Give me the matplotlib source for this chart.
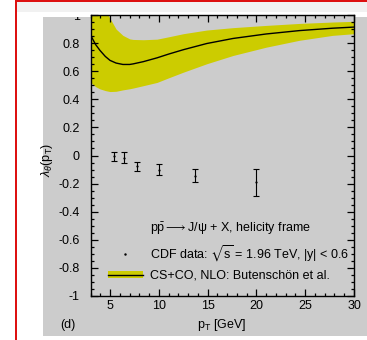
import matplotlib
matplotlib.use("Agg")
import matplotlib.pyplot as plt
from matplotlib.lines import Line2D
from matplotlib.patches import Patch, Rectangle
from matplotlib.ticker import MultipleLocator
import numpy as np

plt.rcParams["font.family"] = ["Liberation Sans", "DejaVu Sans"]
plt.rcParams["mathtext.fontset"] = "custom"
plt.rcParams["mathtext.rm"] = "Liberation Sans"
plt.rcParams["mathtext.it"] = "Liberation Sans:italic"
plt.rcParams["mathtext.sf"] = "Liberation Sans"
plt.rcParams["mathtext.fallback"] = "stixsans"

# CDF data points (pT, lambda_theta, error)
data_pt = [5.4, 6.4, 7.7, 10.0, 13.7, 20.0]
data_lam = [-0.005, -0.015, -0.077, -0.10, -0.143, -0.19]
data_err = [0.032, 0.037, 0.030, 0.040, 0.048, 0.095]

# NLO theory curve and its uncertainty band
theo_pt = [3.0, 3.5, 3.95, 4.5, 4.98, 5.6, 6.3, 7.0, 7.35, 8.4, 9.8, 11.0, 12.5, 14.9, 17.6, 21.0, 24.4, 27.8, 30.0]
theo_lam = [0.855, 0.79, 0.748, 0.705, 0.677, 0.658, 0.648, 0.648, 0.652, 0.668, 0.695, 0.722, 0.753, 0.797, 0.833, 0.865, 0.889, 0.906, 0.914]
band_hi = [1.15, 1.12, 1.08, 1.03, 0.976, 0.90, 0.855, 0.83, 0.826, 0.824, 0.828, 0.845, 0.867, 0.893, 0.91, 0.926, 0.94, 0.95, 0.955]
band_lo = [0.52, 0.49, 0.474, 0.462, 0.455, 0.457, 0.467, 0.475, 0.48, 0.497, 0.52, 0.553, 0.593, 0.653, 0.712, 0.771, 0.82, 0.855, 0.867]

W, H = 367, 340
GRAY = "#cccccc"
YELLOW = "#cccc00"
FS = 9

fig = plt.figure(figsize=(W / 100, H / 100), dpi=100)
fig.patch.set_facecolor("white")


def fx(px):
    return px / W


def fy(py):
    return 1 - py / H


# page decoration: red frame edges, faint shadow, gray panel
fig.patches.append(Rectangle((fx(17), fy(12)), fx(W - 17), fy(2) - fy(12),
                             transform=fig.transFigure, facecolor="#f1f1f1", edgecolor="none", zorder=-3))
fig.patches.append(Rectangle((fx(15), 0), fx(2), 1, transform=fig.transFigure,
                             facecolor="#dd1111", edgecolor="none", zorder=-2))
fig.patches.append(Rectangle((fx(15), fy(1.5)), 1, fy(0) - fy(1.5), transform=fig.transFigure,
                             facecolor="#dd1111", edgecolor="none", zorder=-2))
panel = Rectangle((fx(43), fy(336)), fx(W - 43), fy(17) - fy(336), transform=fig.transFigure,
                  facecolor=GRAY, edgecolor="none", zorder=-1)
fig.patches.append(panel)

ax = fig.add_axes([fx(90.7), fy(296), fx(354 - 90.7), fy(15) - fy(296)])
ax.set_facecolor(GRAY)

ax.fill_between(theo_pt, band_lo, band_hi, color=YELLOW, linewidth=0, zorder=1)
ax.plot(theo_pt, theo_lam, color="black", linewidth=1.0, zorder=2)
ax.errorbar(data_pt, data_lam, yerr=data_err, fmt=".", color="black", markersize=1.2,
            elinewidth=0.8, capsize=2.0, capthick=0.8, zorder=3)

ax.set_xlim(3, 30)
ax.set_ylim(-1, 1)
ax.xaxis.set_major_locator(MultipleLocator(5))
ax.xaxis.set_minor_locator(MultipleLocator(1))
ax.yaxis.set_major_locator(MultipleLocator(0.2))
ax.yaxis.set_minor_locator(MultipleLocator(0.05))
ax.tick_params(which="both", direction="in", top=True, right=True, labelsize=FS, width=0.9)
ax.tick_params(which="major", length=5)
ax.tick_params(which="minor", length=2.5)
ax.tick_params(axis="y", pad=8)
ax.tick_params(axis="x", pad=3)
for s in ax.spines.values():
    s.set_linewidth(1.0)

ax.set_yticks(np.arange(-1, 1.01, 0.2))
ax.set_yticklabels(["-1", "-0.8", "-0.6", "-0.4", "-0.2", "0", "0.2", "0.4", "0.6", "0.8", "1"])
for lab in ax.get_yticklabels():
    lab.set_clip_on(True)
    lab.set_clip_path(panel)

fig.text(fx(47), fy(160), r"$\lambda_\theta(\mathrm{p_T})$", rotation=90, fontsize=FS,
         ha="center", va="center")
fig.text(fx(222), fy(325), r"p$_\mathrm{T}$ [GeV]", fontsize=FS, ha="center", va="center")
fig.text(fx(68), fy(325), "(d)", fontsize=FS, ha="center", va="center")

handles = [
    Line2D([], [], linestyle="none"),
    Line2D([], [], linestyle="none", marker=".", markersize=1.5, color="black"),
    (Patch(facecolor=YELLOW, edgecolor="none"), Line2D([], [], color="black", linewidth=1.0)),
]
labels = [
    r"p$\bar{\mathrm{p}}\longrightarrow$J/ψ + X, helicity frame",
    r"CDF data: $\sqrt{\mathrm{s}}$ = 1.96 TeV, |y| < 0.6",
    "CS+CO, NLO: Butenschön et al.",
]
leg = ax.legend(handles, labels, loc="lower left", bbox_to_anchor=(fx(107.7), fy(282)),
                bbox_transform=fig.transFigure, frameon=False, fontsize=FS,
                handlelength=2.8, handleheight=0.56, handletextpad=0.55, labelspacing=0.5,
                borderpad=0, borderaxespad=0)

fig.savefig("out.png", dpi=100, facecolor="white")
